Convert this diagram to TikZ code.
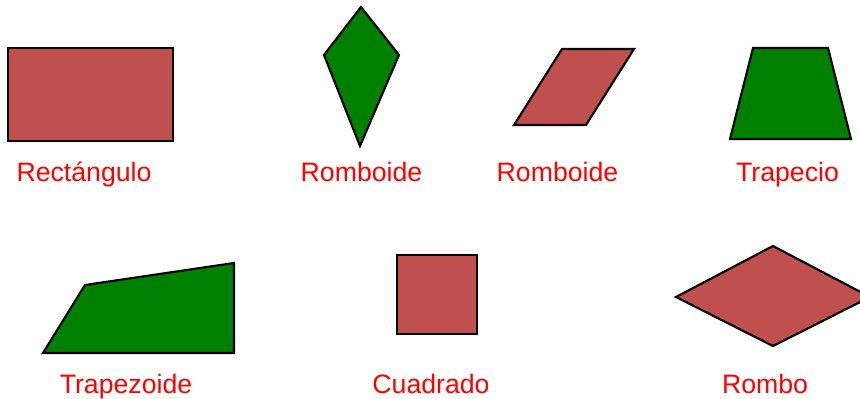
\documentclass[tikz,border=0pt]{standalone}
\usepackage{fontspec}
\setmainfont{Liberation Sans}
\definecolor{shapered}{HTML}{C0504D}
\definecolor{shapegreen}{HTML}{008000}
\begin{document}
\begin{tikzpicture}[x=0.75pt,y=-0.75pt,
  redshape/.style={fill=shapered,draw=black,line width=1.6pt,line join=miter},
  greenshape/.style={fill=shapegreen,draw=black,line width=1.6pt,line join=miter},
  lbl/.style={text=red,anchor=base,inner sep=0pt,font=\fontsize{20pt}{22pt}\selectfont}]
\useasboundingbox (0,0) rectangle (860,399);
\clip (0,0) rectangle (860,399);
% shapes
\draw[redshape] (8,48) rectangle (173,141);
\draw[greenshape] (361,7) -- (399,55) -- (360,146) -- (324,55) -- cycle;
\draw[redshape] (562,49) -- (634,49) -- (586,125) -- (514,125) -- cycle;
\draw[greenshape] (753,48) -- (828,48) -- (851,139) -- (730,139) -- cycle;
\draw[greenshape] (43,353) -- (85,285) -- (234,263) -- (234,353) -- cycle;
\draw[redshape] (397,255) rectangle (477,334);
\draw[redshape] (676,297) -- (773,246) -- (870,297) -- (773,346) -- cycle;
% labels
\node[lbl] (l1) at (84,181) {Rectángulo};
\node[lbl] (l2) at (361.5,181) {Romboide};
\node[lbl] (l3) at (557.5,181) {Romboide};
\node[lbl] (l4) at (787.5,181) {Trapecio};
\node[lbl] (l5) at (126,393) {Trapezoide};
\node[lbl] (l6) at (431,393) {Cuadrado};
\node[lbl] (l7) at (765,393) {Rombo};
\end{tikzpicture}
\end{document}
